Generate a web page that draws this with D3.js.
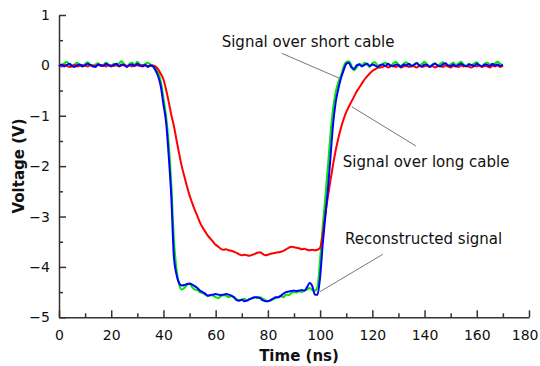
<!DOCTYPE html>
<html>
<head>
<meta charset="utf-8">
<script src="https://cdn.jsdelivr.net/npm/d3@7"></script>
<style>
  body { margin: 0; background: #fff; }
  svg { display: block; font-family: "DejaVu Sans", Verdana, sans-serif; }
</style>
</head>
<body>
<main></main>
<script>
// Data: one sample per ns, 0..170 ns
let timeNs = d3.range(0, 171);

let shortCable = [
    0.02,0.00,0.04,0.07,0.01,-0.03,0.02,0.05,0.00,-0.02,0.03,0.06,0.01,-0.02,0.02,0.04,-0.01,0.01,0.05,0.02,
    -0.01,0.03,0.00,0.04,0.08,0.02,-0.02,0.03,0.05,0.01,0.07,0.02,-0.01,0.03,0.05,0.02,0.00,
    -0.05,-0.15,-0.33,-0.65,-1.0,-1.55,-2.35,-3.45,-4.05,-4.35,-4.45,
    -4.42,-4.36,-4.34,-4.4,-4.45,-4.46,-4.5,-4.52,-4.55,-4.58,-4.56,-4.57,-4.6,-4.62,-4.58,-4.56,-4.57,-4.6,-4.58,-4.6,
    -4.64,-4.66,-4.65,-4.63,-4.66,-4.64,-4.62,-4.6,-4.62,-4.6,-4.63,-4.66,-4.68,-4.67,-4.64,-4.62,-4.6,-4.58,-4.6,-4.55,
    -4.56,-4.52,-4.5,-4.51,-4.48,-4.5,-4.47,-4.45,-4.42,-4.46,-4.47,
    -4.4,-3.85,-3.2,-2.62,-2.0,-1.35,-0.85,-0.52,-0.33,-0.2,-0.03,0.07,0.08,0.0,-0.1,-0.04,0.03,0.0,0.05,0.02,
    -0.03,0.04,0.06,0.0,-0.02,
    0.03,0.05,0.01,-0.02,0.04,0.07,0.02,-0.01,0.03,0.06,0.01,-0.03,0.02,0.05,0.00,0.03,0.07,0.02,-0.02,0.01,
    0.04,0.00,0.03,0.06,0.01,-0.02,0.02,0.05,0.01,0.04,0.07,0.02,-0.01,0.03,0.00,0.04,0.06,0.01,-0.02,0.03,
    0.05,0.02,0.00,0.04,0.07,0.03,0.01
];

let longCable = [
    0.00,-0.02,0.01,-0.01,-0.03,0.00,0.01,-0.02,-0.01,0.01,0.00,-0.02,0.01,0.00,-0.01,0.02,-0.01,0.00,-0.02,0.01,
    0.00,-0.01,0.01,-0.02,0.00,0.02,-0.01,0.00,-0.02,0.01,0.00,-0.01,0.01,0.00,-0.01,0.00,-0.01,
    -0.02,-0.08,-0.17,-0.28,-0.48,-0.72,-0.98,-1.2,-1.48,-1.75,-2.0,-2.2,-2.4,-2.58,-2.73,-2.87,-2.99,-3.12,-3.22,-3.3,
    -3.38,-3.44,-3.5,-3.56,-3.6,-3.64,-3.66,-3.65,-3.67,-3.68,-3.7,-3.72,-3.75,-3.77,-3.76,-3.77,-3.78,-3.76,-3.74,-3.72,
    -3.71,-3.74,-3.77,-3.76,-3.74,-3.73,-3.72,-3.71,-3.7,-3.68,-3.65,-3.62,-3.6,-3.61,-3.62,-3.63,-3.65,-3.64,-3.66,-3.67,
    -3.66,-3.67,-3.66,-3.62,
    -3.35,-2.95,-2.6,-2.27,-1.96,-1.68,-1.44,-1.24,-1.07,-0.93,-0.82,-0.72,-0.62,-0.52,-0.44,-0.36,-0.28,-0.22,-0.16,-0.11,
    -0.08,-0.05,-0.04,
    -0.03,-0.01,-0.04,-0.02,0.00,-0.03,-0.01,-0.04,-0.02,-0.01,-0.03,0.00,-0.02,-0.04,-0.01,-0.03,-0.02,0.00,-0.03,-0.01,
    -0.04,-0.02,-0.01,-0.03,0.00,-0.02,-0.04,-0.01,-0.02,-0.03,0.00,-0.02,-0.01,-0.03,-0.04,-0.01,-0.02,0.00,-0.03,-0.01,
    -0.02,-0.04,-0.01,-0.02,0.00,-0.03,-0.01
];

let reconstructed = [
    -0.01,0.02,-0.02,0.01,0.03,-0.01,-0.03,0.01,0.02,-0.02,0.00,0.03,0.01,-0.02,-0.03,0.02,0.01,-0.01,0.03,0.00,
    -0.02,0.01,0.03,-0.01,0.02,0.00,-0.03,0.01,0.02,-0.01,0.03,0.00,-0.02,0.01,-0.03,0.00,-0.02,
    -0.1,-0.22,-0.42,-0.78,-1.12,-1.78,-2.6,-3.8,-4.15,-4.32,-4.37,
    -4.36,-4.34,-4.33,-4.35,-4.38,-4.42,-4.47,-4.5,-4.53,-4.57,-4.56,-4.55,-4.54,-4.55,-4.56,-4.55,-4.54,-4.55,-4.57,-4.6,
    -4.66,-4.67,-4.65,-4.68,-4.67,-4.64,-4.62,-4.6,-4.6,-4.62,-4.66,-4.68,-4.68,-4.66,-4.63,-4.6,-4.6,-4.57,-4.53,-4.5,
    -4.49,-4.48,-4.47,-4.48,-4.47,-4.46,-4.47,-4.4,-4.32,-4.38,-4.55,
    -4.55,-4.2,-3.55,-3.0,-2.45,-1.8,-1.15,-0.72,-0.46,-0.25,-0.1,0.03,0.05,-0.04,-0.07,0.0,0.02,-0.02,0.01,0.03,
    -0.01,0.02,0.00,-0.03,0.01,
    0.02,-0.01,0.03,0.00,-0.02,0.02,0.01,-0.03,0.02,0.00,0.03,-0.01,0.01,0.04,0.00,-0.02,0.02,0.01,-0.03,0.01,
    0.03,0.00,-0.02,0.02,0.04,0.00,-0.01,0.02,-0.02,0.01,0.03,0.00,-0.02,0.02,0.01,-0.01,0.03,0.00,-0.02,0.02,
    0.01,-0.01,0.03,0.00,0.02,-0.01,0.01
];

let xTicks = [0, 20, 40, 60, 80, 100, 120, 140, 160, 180];
let xMinorTicks = [10, 30, 50, 70, 90, 110, 130, 150, 170];
let yTicks = [1, 0, -1, -2, -3, -4, -5];
let yMinorTicks = [0.5, -0.5, -1.5, -2.5, -3.5, -4.5];

// label text, text anchor (t, v), leader line from (t1, v1) to (t2, v2)
let labels = ['Signal over short cable', 'Signal over long cable', 'Reconstructed signal'];
let labelPos = [[62.3, 0.37], [108.7, -2.02], [109.5, -3.54]];
let leaderLines = [[85.3, 0.24, 107.6, -0.26], [112.1, -0.82, 136.7, -1.6], [124, -3.75, 100, -4.49]];

let width = 540;
let height = 366;

let svg = d3.select('main')
    .append('svg')
    .attr('width', width)
    .attr('height', height);

let x = d3.scaleLinear().domain([0, 180]).range([59, 529]);
let y = d3.scaleLinear().domain([-5, 1]).range([317.3, 15]);

let fmt = d3.format('d');

// Axes
let xAxis = svg.append('g')
    .attr('transform', `translate(0, ${y(-5)})`)
    .call(d3.axisBottom(x).tickValues(xTicks).tickFormat(fmt).tickSize(-7).tickSizeOuter(0).tickPadding(13));

// last label is pulled in so it stays on the page
xAxis.selectAll('.tick text')
    .filter(d => d === 180)
    .attr('text-anchor', 'end')
    .attr('x', 9);

svg.append('g')
    .attr('transform', `translate(0, ${y(-5)})`)
    .call(d3.axisBottom(x).tickValues(xMinorTicks).tickSize(-4).tickSizeOuter(0).tickFormat(''))
    .select('.domain').remove();

let yAxis = svg.append('g')
    .attr('transform', `translate(${x(0)}, 0)`)
    .call(d3.axisLeft(y).tickValues(yTicks).tickFormat(fmt).tickSize(-7).tickSizeOuter(0).tickPadding(9));

svg.append('g')
    .attr('transform', `translate(${x(0)}, 0)`)
    .call(d3.axisLeft(y).tickValues(yMinorTicks).tickSize(-4).tickSizeOuter(0).tickFormat(''))
    .select('.domain').remove();

svg.selectAll('.domain, .tick line')
    .attr('stroke', '#333')
    .attr('stroke-width', 1.5);

svg.selectAll('.tick text')
    .attr('font-family', '"DejaVu Sans", Verdana, sans-serif')
    .attr('font-size', 14)
    .attr('fill', '#111');

// Axis titles
svg.append('text')
    .attr('x', 299)
    .attr('y', 361)
    .attr('text-anchor', 'middle')
    .attr('font-size', 15)
    .attr('font-weight', 'bold')
    .attr('fill', '#111')
    .text('Time (ns)');

svg.append('text')
    .attr('transform', 'translate(24, 166) rotate(-90)')
    .attr('text-anchor', 'middle')
    .attr('font-size', 15)
    .attr('font-weight', 'bold')
    .attr('fill', '#111')
    .text('Voltage (V)');

// Curves
let line = d3.line()
    .x((d, i) => x(timeNs[i]))
    .y(d => y(d))
    .curve(d3.curveMonotoneX);

let series = [
    { values: shortCable, color: '#00e600' },
    { values: longCable, color: '#ff0000' },
    { values: reconstructed, color: '#0000ff' }
];

series.forEach(s => {
    svg.append('path')
        .datum(s.values)
        .attr('d', line)
        .attr('fill', 'none')
        .attr('stroke', s.color)
        .attr('stroke-width', 2)
        .attr('stroke-linejoin', 'round');
});

// Annotations
leaderLines.forEach(l => {
    svg.append('line')
        .attr('x1', x(l[0]))
        .attr('y1', y(l[1]))
        .attr('x2', x(l[2]))
        .attr('y2', y(l[3]))
        .attr('stroke', '#777')
        .attr('stroke-width', 1);
});

labels.forEach((txt, i) => {
    svg.append('text')
        .attr('x', x(labelPos[i][0]))
        .attr('y', y(labelPos[i][1]))
        .attr('font-size', 15)
        .attr('fill', '#111')
        .text(txt);
});
</script>
</body>
</html>
